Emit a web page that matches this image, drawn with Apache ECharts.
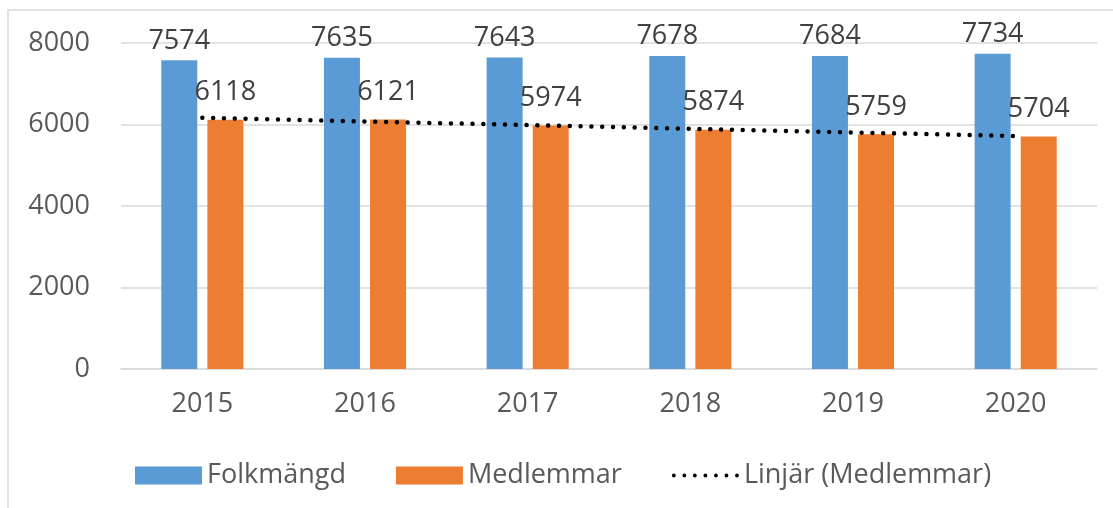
<!DOCTYPE html>
<html>
<head>
<meta charset="utf-8">
<script src="https://cdn.jsdelivr.net/npm/echarts@6/dist/echarts.min.js"></script>
<style>
  html, body { margin: 0; padding: 0; background: #fff; }
  #chart { width: 1113px; height: 508px; }
</style>
</head>
<body>
<div id="chart"></div>
<script>
// data
const years = ['2015', '2016', '2017', '2018', '2019', '2020'];
const folkmangd = [7574, 7635, 7643, 7678, 7684, 7734];
const medlemmar = [6118, 6121, 5974, 5874, 5759, 5704];
const trend = [6165, 6075, 5985, 5895, 5805, 5715]; // Linjär (Medlemmar)
const yTicks = [0, 2000, 4000, 6000, 8000];

const font = 'Open Sans';

// dotted legend icon: a row of 7 small dots
let dots = '';
for (let i = 0; i < 7; i++) {
  const cx = 2 + i * 11;
  dots += 'M' + (cx - 2) + ' 2 a2 2 0 1 0 4 0 a2 2 0 1 0 -4 0 ';
}

const chart = echarts.init(document.getElementById('chart'));

chart.setOption({
  animation: false,
  textStyle: { fontFamily: font },
  graphic: [{
    type: 'rect',
    shape: { x: 8, y: 10, width: 1200, height: 600 },
    style: { fill: 'none', stroke: '#d9d9d9', lineWidth: 1.5 },
    silent: true
  }],
  grid: { left: 121, right: 16, top: 43, bottom: 139 },
  legend: {
    left: 130,
    top: 457,
    itemWidth: 67,
    itemHeight: 18,
    itemGap: 50,
    textStyle: { fontSize: 27, color: '#595959', fontFamily: font },
    data: [
      { name: 'Folkmängd', icon: 'rect' },
      { name: 'Medlemmar', icon: 'rect' },
      { name: 'Linjär (Medlemmar)', icon: 'path://' + dots }
    ]
  },
  xAxis: {
    type: 'category',
    data: years,
    axisLine: { lineStyle: { color: '#d9d9d9', width: 1.5 } },
    axisTick: { show: false },
    axisLabel: { color: '#595959', fontSize: 27, margin: 22 }
  },
  yAxis: {
    type: 'value',
    min: yTicks[0],
    max: yTicks[yTicks.length - 1],
    interval: 2000,
    axisLine: { show: false },
    axisTick: { show: false },
    axisLabel: { color: '#595959', fontSize: 27, margin: 31, formatter: v => String(v) },
    splitLine: { lineStyle: { color: '#d9d9d9', width: 1.5 } }
  },
  series: [
    {
      name: 'Folkmängd',
      type: 'bar',
      data: folkmangd,
      barWidth: 36,
      barGap: '28%',
      itemStyle: { color: '#5b9bd5' },
      label: { show: true, position: 'top', distance: 6, color: '#404040', fontSize: 27 }
    },
    {
      name: 'Medlemmar',
      type: 'bar',
      data: medlemmar,
      barWidth: 36,
      itemStyle: { color: '#ed7d31' },
      label: { show: true, position: 'top', distance: 14, color: '#404040', fontSize: 27 }
    },
    {
      name: 'Linjär (Medlemmar)',
      type: 'line',
      data: trend,
      symbol: 'none',
      z: 5,
      itemStyle: { color: '#000' },
      lineStyle: { color: '#000', width: 4.5, type: [0.01, 10.8], cap: 'round' }
    }
  ]
});
</script>
</body>
</html>
